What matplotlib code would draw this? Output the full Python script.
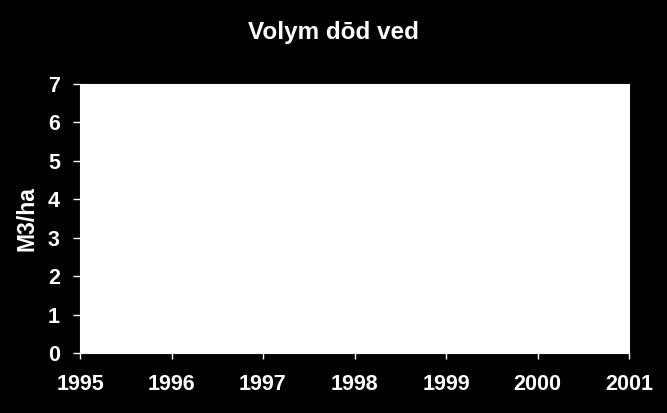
import matplotlib
matplotlib.use("Agg")
import matplotlib.pyplot as plt

# chart has no plotted series, only the empty axes
years = [1995, 1996, 1997, 1998, 1999, 2000, 2001]
y_ticks = [0, 1, 2, 3, 4, 5, 6, 7]
title = "Volym dōd ved"
y_label = "M3/ha"

plt.rcParams['font.family'] = ['Liberation Sans', 'DejaVu Sans']
plt.rcParams['font.weight'] = 'bold'

fig = plt.figure(figsize=(6.67, 4.13), dpi=100, facecolor='black')
ax = fig.add_axes([80/667, 60/413, 549/667, 269/413])
ax.set_facecolor('white')

ax.set_xlim(years[0], years[-1])
ax.set_ylim(y_ticks[0], y_ticks[-1])
ax.set_xticks(years)
ax.set_yticks(y_ticks)
ax.set_xticklabels([str(y) for y in years], fontsize=15.5, fontweight='bold', color='white')
ax.set_yticklabels([str(v) for v in y_ticks], fontsize=15.5, fontweight='bold', color='white')
ax.tick_params(axis='x', direction='out', length=4, width=1, color='white', pad=11)
ax.tick_params(axis='y', direction='out', length=5, width=1, color='white', pad=9.5)

for s in ax.spines.values():
    s.set_color('white')

ax.set_ylabel(y_label, fontsize=16.5, fontweight='bold', color='white')
ax.yaxis.set_label_coords(-0.0765, 0.5)

fig.text(0.5, 1 - 32/413, title, ha='center', va='center',
         fontsize=17.5, fontweight='bold', color='white')

fig.savefig('out.png', dpi=100, facecolor='black')
